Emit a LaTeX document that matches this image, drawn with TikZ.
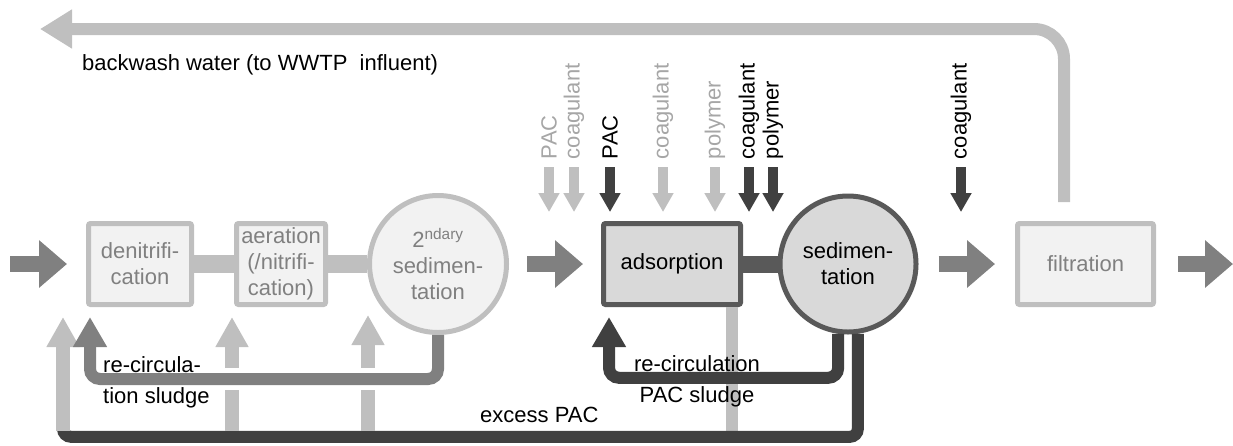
\documentclass[tikz,border=0pt]{standalone}
\usepackage{fontspec}
\setmainfont{Liberation Sans}
\usepackage{tikz}
\usetikzlibrary{arrows.meta,positioning}
\definecolor{lgray}{HTML}{BFBFBF}
\definecolor{mgray}{HTML}{808080}
\definecolor{dgray}{HTML}{404040}
\definecolor{bgray}{HTML}{595959}
\definecolor{boxfill}{HTML}{F2F2F2}
\definecolor{adsfill}{HTML}{D9D9D9}
\definecolor{ltext}{HTML}{A6A6A6}

\begin{document}
\begin{tikzpicture}[x=1pt,y=-1pt,
    font=\fontsize{22}{26}\selectfont,
    unit/.style={draw=lgray,fill=boxfill,line width=5pt,text=mgray,align=center,inner sep=0pt,rounded corners=2pt},
    box/.style={unit,rectangle,minimum width=#1,minimum height=81pt},
    tank/.style={unit,circle,minimum size=#1},
    flow/.style={draw=mgray,line width=16pt,-{Triangle[length=28pt,width=46pt]}},
    link/.style={draw=#1,line width=18pt},
    dose/.style={draw=#1,line width=10pt,-{Triangle[length=19pt,width=20pt]}},
    doselabel/.style={rotate=90,anchor=west,inner sep=0pt,outer sep=0pt},
    sludge/.style={draw=lgray,line width=14pt,-{Triangle[length=30pt,width=31pt]}},
    recirc/.style={draw=#1,line width=12pt,rounded corners=10pt,-{Triangle[length=30pt,width=32pt]}},
    label/.style={inner sep=0pt,text=black,font=\fontsize{22}{31}\selectfont}]
    \useasboundingbox (0,0) rectangle (1233,445);

    \node[box=103pt] (denit) at (140,264) {denitrifi-\\cation};
    \node[box=89pt] (aer) at (281,264) {aeration\\(/nitrifi-\\cation)};
    \node[tank=137pt] (sec) at (438,264) {2\textsuperscript{ndary}\\sedimen-\\tation};
    \node[box=137pt,draw=bgray,fill=adsfill,text=black] (ads) at (672,264) {adsorption};
    \node[tank=136pt,draw=bgray,fill=adsfill,text=black] (sed) at (848,264) {sedimen-\\tation};
    \node[box=136pt] (filt) at (1085.5,264) {filtration};

    \coordinate (in) at (10,264);
    \coordinate (out) at (1233,264);
    \draw[flow,shorten >=19pt] (in) -- (denit);
    \draw[flow,shorten <=18pt,shorten >=18pt] (sec) -- (ads);
    \draw[flow,shorten <=20pt,shorten >=20pt] (sed) -- (filt);
    \draw[flow,shorten <=22pt] (filt) -- (out);
    \draw[link=lgray] (denit.east) -- (aer.west);
    \draw[link=lgray] (aer.east) -- (sec.west);
    \draw[link=bgray,line width=17pt] (ads.east) -- (sed.west);

    \foreach \x/\txt/\tc/\ac [count=\i] in {549/PAC/ltext/lgray, 574/coagulant/ltext/lgray,
        610/PAC/black/dgray, 663/coagulant/ltext/lgray, 715/polymer/ltext/lgray,
        749/coagulant/black/dgray, 773/polymer/black/dgray, 961/coagulant/black/dgray} {
      \node[doselabel,text=\tc] (d\i) at (\x,159) {\txt};
      \draw[dose=\ac] (d\i.west) ++(0,8) -- (\x,212);
    }

    \coordinate (bw) at (1064,202);
    \coordinate (wwtp) at (40,29);
    \draw[draw=lgray,line width=12pt,rounded corners=30pt,-{Triangle[length=32pt,width=37pt]}] (bw) |- (wwtp);
    \node[label,anchor=base west] (bwlabel) at (82,70) {backwash water (to WWTP\ \ influent)};

    \coordinate (s1) at (63,431);
    \coordinate (s2) at (232,431);
    \coordinate (s3) at (368,431);
    \coordinate (x1) at (63,317);
    \coordinate (x2) at (232,317);
    \coordinate (x3) at (368,315);
    \coordinate (ex) at (63,428);
    \draw[draw=lgray,line width=12pt] ([xshift=-11pt]ads.south east) -- ++(0,124);
    \draw[draw=dgray,line width=12pt,rounded corners=8pt] (sed.278) -- ++(0,103) -| (ex);
    \draw[sludge] (s1) -- (x1);
    \draw[sludge] (s2) -- (x2);
    \draw[sludge] (s3) -- (x3);

    \coordinate (r1) at (90,317);
    \coordinate (r2) at (609,317);
    \draw[white,line width=22pt] (sec.south) ++(0,44) -| ([yshift=-40pt]r1);
    \draw[recirc=mgray] (sec.south) -- ++(0,44) -| (r1);
    \draw[recirc=dgray] (sed.262) -- ++(0,44) -| (r2);

    \node[label,anchor=base west,align=left] (rc1) at (103,403) {re-circula-\\tion sludge};
    \node[label,anchor=base,align=center] (rc2) at (697,402) {re-circulation\\PAC sludge};
    \node[label,anchor=base west] (excess) at (480,422) {excess PAC};
\end{tikzpicture}
\end{document}
